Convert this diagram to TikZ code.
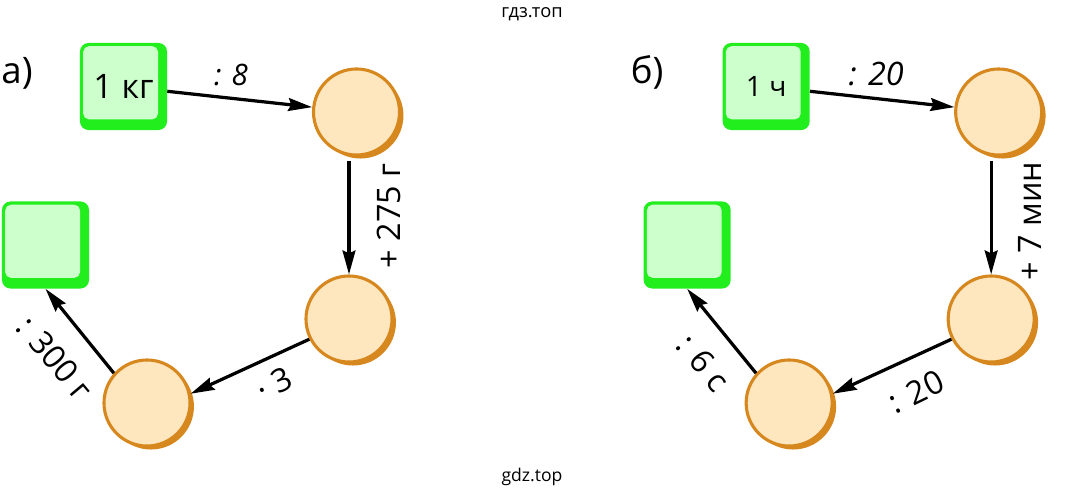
\documentclass[tikz,border=0pt]{standalone}
\usepackage{fontspec}
\setmainfont{Open Sans}
\usetikzlibrary{arrows.meta,shadows}

\definecolor{boxgreen}{RGB}{34,238,30}
\definecolor{boxfill}{RGB}{204,255,204}
\definecolor{ringorange}{RGB}{214,135,30}
\definecolor{ringfill}{RGB}{254,230,190}

\tikzset{
	unit/.style={rectangle, rounded corners=6pt, minimum size=2.175cm, inner sep=0pt,
		fill=boxgreen,
		path picture={\fill[boxfill, rounded corners=4pt]
			([shift={(2.3pt,-2.3pt)}]path picture bounding box.north west) rectangle
			([shift={(-6.4pt,7.6pt)}]path picture bounding box.south east);}},
	blank/.style={circle, minimum size=2.15cm, inner sep=0pt,
		draw=ringorange, fill=ringfill, line width=2.2pt,
		drop shadow={fill=ringorange, opacity=1, shadow xshift=2.8pt, shadow yshift=-2.5pt}},
	arr/.style={line width=2.3pt, -{Stealth[length=17pt, angle'=30, inset=2pt]}},
	op/.style={font=\fontsize{23}{27}\selectfont, inner sep=0pt},
	opit/.style={font=\fontsize{21}{25}\selectfont\itshape, inner sep=0pt},
	part/.style={font=\fontsize{26}{30}\selectfont, inner sep=0pt},
}

\begin{document}
\begin{tikzpicture}[x=0.025cm, y=-0.025cm]
	\useasboundingbox (0,0) rectangle (1066,497);
	% watermarks
	\node[font=\fontsize{13}{15}\selectfont] (wtop) at (532,14) {гдз.топ};
	\node[font=\fontsize{12.5}{15}\selectfont] (wbot) at (532,477) {gdz.top};
	% part a
	\node[part] (alabel) at (17,73) {а)};
	\node[unit, font=\fontsize{24}{28}\selectfont] (a1) at (123.5,86.5) {1 кг};
	\node[blank] (a2) at (356.5,112) {};
	\node[blank] (a3) at (349,319) {};
	\node[blank] (a4) at (147,403) {};
	\node[unit] (a5) at (45.5,245) {};
	\draw[arr] (a1) -- (a2);
	\draw[arr, shorten <=3pt] (a2.south -| a3.north) -- (a3.north);
	\draw[arr] (a3.207) -- (a4.12);
	\draw[arr] (a4.138) -- (a5.south);
	\node[opit] (a12) at (231,75) {: 8};
	\node[op, rotate=90] (a23) at (389,216) {+ 275 г};
	\node[op, rotate=26] (a34) at (274,384) {· 3};
	\node[op, rotate=-50] (a45) at (55,358) {: 300 г};
	% part b
	\begin{scope}[xshift=16.05cm]
	\node[part] (blabel) at (5,72) {б)};
	\node[unit, font=\fontsize{20}{24}\selectfont] (b1) at (124,86.5) {1 ч};
	\node[blank] (b2) at (356.5,112) {};
	\node[blank] (b3) at (349,319) {};
	\node[blank] (b4) at (147,403) {};
	\node[unit] (b5) at (45,245) {};
	\draw[arr] (b1) -- (b2);
	\draw[arr, shorten <=3pt] (b2.south -| b3.north) -- (b3.north);
	\draw[arr] (b3.207) -- (b4.12);
	\draw[arr] (b4.138) -- (b5.south);
	\node[opit, font=\fontsize{23}{27}\selectfont\itshape] (b12) at (234,74) {: 20};
	\node[op, rotate=90] (b23) at (388,221) {+ 7 мин};
	\node[op, rotate=26] (b34) at (274,392) {: 20};
	\node[op, rotate=-50] (b45) at (61,363) {: 6 с};
	\end{scope}
\end{tikzpicture}
\end{document}
